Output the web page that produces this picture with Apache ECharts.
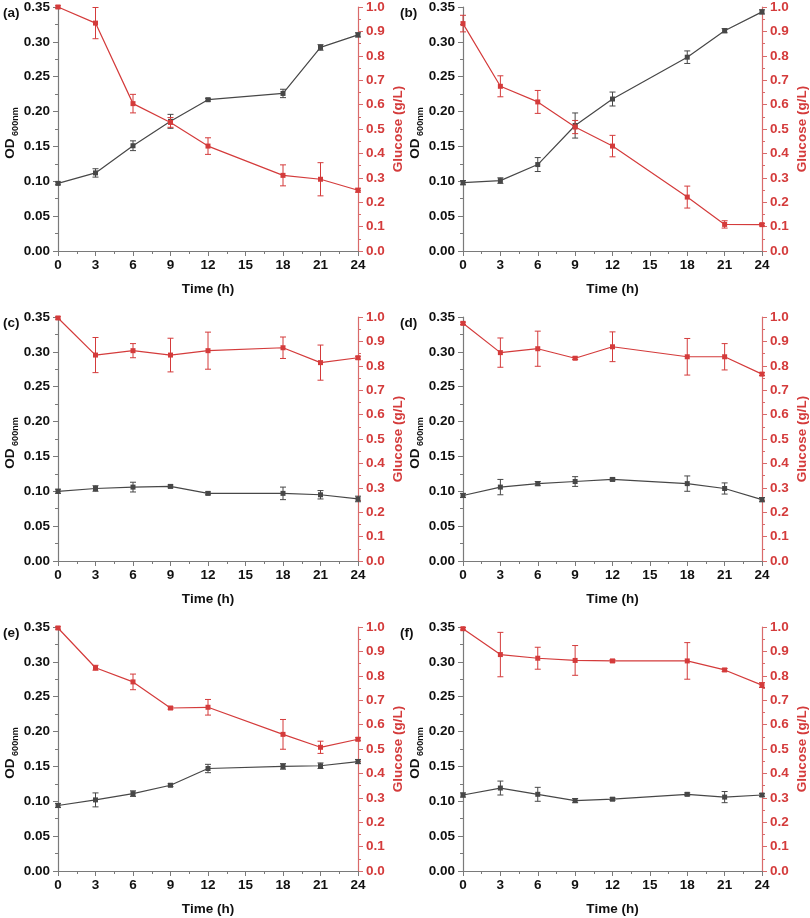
<!DOCTYPE html>
<html>
<head>
<meta charset="utf-8">
<script src="https://cdn.jsdelivr.net/npm/echarts@6/dist/echarts.min.js"></script>
<style>html,body{margin:0;padding:0;background:#fff;}#c{width:810px;height:918px;}</style>
</head>
<body>
<div id="c"></div>
<script>
const hours = [0, 3, 6, 9, 12, 18, 21, 24];
const xTicks = [0, 3, 6, 9, 12, 15, 18, 21, 24];
const panelLabels = ['(a)', '(b)', '(c)', '(d)', '(e)', '(f)'];

const odA = [0.097, 0.112, 0.151, 0.186, 0.217, 0.226, 0.292, 0.310];
const odErrA = [0.002, 0.006, 0.007, 0.010, 0.002, 0.006, 0.004, 0.003];
const gluA = [1.000, 0.934, 0.604, 0.527, 0.430, 0.310, 0.294, 0.249];
const gluErrA = [0.005, 0.064, 0.038, 0.020, 0.034, 0.043, 0.068, 0.008];

const odB = [0.098, 0.101, 0.124, 0.180, 0.218, 0.278, 0.316, 0.343];
const odErrB = [0.003, 0.004, 0.010, 0.018, 0.010, 0.009, 0.003, 0.003];
const gluB = [0.932, 0.675, 0.611, 0.508, 0.430, 0.221, 0.109, 0.108];
const gluErrB = [0.034, 0.043, 0.047, 0.027, 0.044, 0.045, 0.015, 0.005];

const odC = [0.100, 0.104, 0.106, 0.107, 0.097, 0.097, 0.095, 0.089];
const odErrC = [0.003, 0.004, 0.007, 0.002, 0.002, 0.009, 0.006, 0.004];
const gluC = [0.996, 0.844, 0.862, 0.844, 0.862, 0.874, 0.813, 0.833];
const gluErrC = [0.005, 0.072, 0.029, 0.069, 0.076, 0.044, 0.072, 0.006];

const odD = [0.094, 0.106, 0.111, 0.114, 0.117, 0.111, 0.104, 0.088];
const odErrD = [0.003, 0.011, 0.003, 0.007, 0.002, 0.011, 0.008, 0.003];
const gluD = [0.974, 0.854, 0.870, 0.831, 0.878, 0.837, 0.837, 0.766];
const gluErrD = [0.005, 0.060, 0.072, 0.005, 0.061, 0.075, 0.054, 0.006];

const odE = [0.094, 0.102, 0.111, 0.123, 0.147, 0.150, 0.151, 0.157];
const odErrE = [0.003, 0.010, 0.004, 0.002, 0.006, 0.004, 0.004, 0.003];
const gluE = [0.996, 0.833, 0.775, 0.668, 0.671, 0.560, 0.507, 0.540];
const gluErrE = [0.005, 0.010, 0.032, 0.005, 0.032, 0.061, 0.025, 0.006];

const odF = [0.109, 0.119, 0.110, 0.101, 0.103, 0.110, 0.106, 0.109];
const odErrF = [0.003, 0.010, 0.010, 0.003, 0.002, 0.002, 0.008, 0.002];
const gluF = [0.993, 0.887, 0.872, 0.863, 0.861, 0.861, 0.824, 0.762];
const gluErrF = [0.005, 0.091, 0.045, 0.061, 0.005, 0.075, 0.006, 0.010];

const panels = [
  {od: odA, odErr: odErrA, glu: gluA, gluErr: gluErrA},
  {od: odB, odErr: odErrB, glu: gluB, gluErr: gluErrB},
  {od: odC, odErr: odErrC, glu: gluC, gluErr: gluErrC},
  {od: odD, odErr: odErrD, glu: gluD, gluErr: gluErrD},
  {od: odE, odErr: odErrE, glu: gluE, gluErr: gluErrE},
  {od: odF, odErr: odErrF, glu: gluF, gluErr: gluErrF}
];

const FONT = '"Liberation Sans", Arial, sans-serif';
const GRAY = '#474747';
const RED = '#d43b3b';
const RED_AXIS = '#d96a6a';
const AXIS_GRAY = '#7a7a7a';
const FS = 13.5;

const lefts = [58, 463];
const tops = [7, 317, 627];
const W = 300, H = 244;

const grid = [], xAxis = [], yAxis = [], series = [], title = [];

function errRender(color) {
  return function (params, api) {
    const x = api.value(0), y = api.value(1), e = api.value(2);
    const lo = api.coord([x, y - e]);
    const hi = api.coord([x, y + e]);
    const c = 3;
    const st = {stroke: color, lineWidth: 1};
    return {
      type: 'group',
      children: [
        {type: 'line', shape: {x1: lo[0], y1: lo[1], x2: hi[0], y2: hi[1]}, style: st},
        {type: 'line', shape: {x1: lo[0] - c, y1: lo[1], x2: lo[0] + c, y2: lo[1]}, style: st},
        {type: 'line', shape: {x1: hi[0] - c, y1: hi[1], x2: hi[0] + c, y2: hi[1]}, style: st}
      ]
    };
  };
}

panels.forEach((p, i) => {
  const col = i % 2, row = Math.floor(i / 2);
  grid.push({left: lefts[col], top: tops[row], width: W, height: H, containLabel: false});
  title.push({
    text: panelLabels[i], left: col === 0 ? 3 : 400, top: tops[row] - 1,
    textStyle: {fontFamily: FONT, fontSize: FS, fontWeight: 'bold', color: '#111'}, padding: 0
  });
  xAxis.push({
    type: 'value', gridIndex: i, min: 0, max: 24, interval: 3,
    name: 'Time (h)', nameLocation: 'middle', nameGap: 31,
    nameTextStyle: {fontFamily: FONT, fontSize: FS, fontWeight: 'bold', color: '#111'},
    axisLine: {show: true, lineStyle: {color: AXIS_GRAY, width: 1.2}},
    axisTick: {show: true, length: 5, lineStyle: {color: AXIS_GRAY}},
    minorTick: {show: true, splitNumber: 2, length: 3, lineStyle: {color: AXIS_GRAY}},
    axisLabel: {fontFamily: FONT, fontSize: FS, fontWeight: 'bold', color: '#111', margin: 7,
      formatter: v => (xTicks.indexOf(v) >= 0 ? String(v) : '')},
    splitLine: {show: false}
  });
  yAxis.push({
    type: 'value', gridIndex: i, position: 'left', min: 0, max: 0.35, interval: 0.05,
    name: '{a|OD}{b| 600nm}', nameLocation: 'middle', nameGap: 38,
    nameTextStyle: {
      fontFamily: FONT, color: '#111', padding: [0, 8, 0, 0],
      rich: {
        a: {fontFamily: FONT, fontSize: FS, fontWeight: 'bold', color: '#111', lineHeight: 16, verticalAlign: 'bottom'},
        b: {fontFamily: FONT, fontSize: 9, fontWeight: 'bold', color: '#111', lineHeight: 16, verticalAlign: 'bottom', padding: [0, 0, -3, 0]}
      }
    },
    axisLine: {show: true, lineStyle: {color: AXIS_GRAY, width: 1.2}},
    axisTick: {show: true, length: 5, lineStyle: {color: AXIS_GRAY}},
    minorTick: {show: true, splitNumber: 2, length: 3, lineStyle: {color: AXIS_GRAY}},
    axisLabel: {fontFamily: FONT, fontSize: FS, fontWeight: 'bold', color: '#111', margin: 8,
      formatter: v => v.toFixed(2)},
    splitLine: {show: false}
  });
  yAxis.push({
    type: 'value', gridIndex: i, position: 'right', min: 0, max: 1, interval: 0.1,
    name: 'Glucose (g/L)', nameLocation: 'middle', nameGap: 33,
    nameTextStyle: {fontFamily: FONT, fontSize: FS, fontWeight: 'bold', color: RED},
    axisLine: {show: true, lineStyle: {color: RED_AXIS, width: 1.2}},
    axisTick: {show: true, length: 5, lineStyle: {color: RED_AXIS}},
    minorTick: {show: true, splitNumber: 2, length: 3, lineStyle: {color: RED_AXIS}},
    axisLabel: {fontFamily: FONT, fontSize: FS, fontWeight: 'bold', color: RED, margin: 8,
      formatter: v => v.toFixed(1)},
    splitLine: {show: false}
  });
  const yl = i * 2, yr = i * 2 + 1;
  series.push({
    type: 'line', xAxisIndex: i, yAxisIndex: yl,
    data: hours.map((h, k) => [h, p.od[k]]),
    symbol: 'rect', symbolSize: 5, showSymbol: true,
    lineStyle: {color: GRAY, width: 1.2}, itemStyle: {color: GRAY}, z: 3
  });
  series.push({
    type: 'custom', xAxisIndex: i, yAxisIndex: yl,
    data: hours.map((h, k) => [h, p.od[k], p.odErr[k]]),
    encode: {x: 0, y: 1}, renderItem: errRender(GRAY), clip: false, z: 3
  });
  series.push({
    type: 'line', xAxisIndex: i, yAxisIndex: yr,
    data: hours.map((h, k) => [h, p.glu[k]]),
    symbol: 'rect', symbolSize: 5, showSymbol: true,
    lineStyle: {color: RED, width: 1.2}, itemStyle: {color: RED}, z: 4
  });
  series.push({
    type: 'custom', xAxisIndex: i, yAxisIndex: yr,
    data: hours.map((h, k) => [h, p.glu[k], p.gluErr[k]]),
    encode: {x: 0, y: 1}, renderItem: errRender(RED), clip: false, z: 4
  });
});

const chart = echarts.init(document.getElementById('c'), null, {renderer: 'canvas'});
chart.setOption({
  animation: false,
  backgroundColor: '#fff',
  title: title,
  grid: grid,
  xAxis: xAxis,
  yAxis: yAxis,
  series: series
});
</script>
</body>
</html>
